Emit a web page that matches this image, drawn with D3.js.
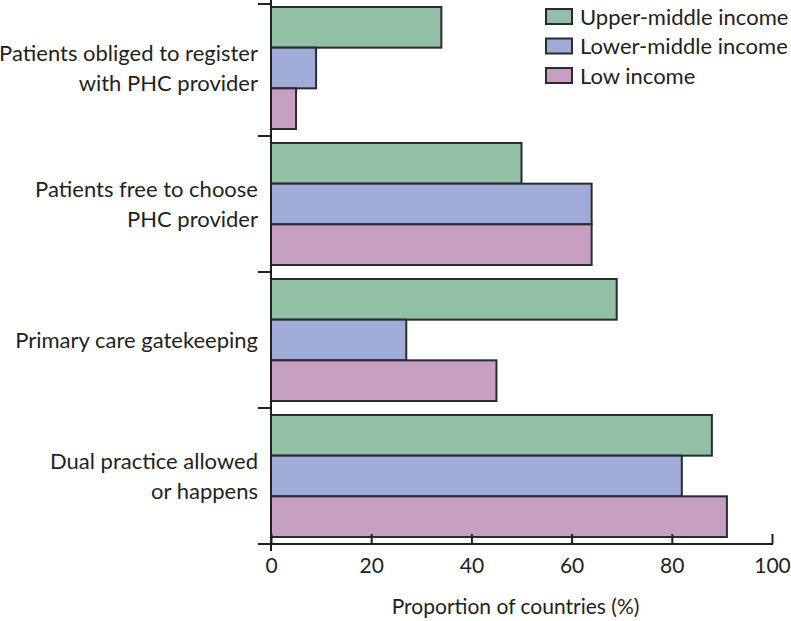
<!DOCTYPE html>
<html>
<head>
<meta charset="utf-8">
<script src="https://cdn.jsdelivr.net/npm/d3@7"></script>
<style>
  html, body { margin: 0; padding: 0; background: #fff; }
  svg { display: block; }
  text { font-family: Lato, "Noto Sans", sans-serif; fill: #231f20; }
</style>
</head>
<body>
<svg id="chart" width="791" height="621"></svg>
<script>
const categories = [
  ["Patients obliged to register", "with PHC provider"],
  ["Patients free to choose", "PHC provider"],
  ["Primary care gatekeeping"],
  ["Dual practice allowed", "or happens"]
];
const seriesNames = ["Upper-middle income", "Lower-middle income", "Low income"];
const upperMiddle = [34, 50, 69, 88];
const lowerMiddle = [9, 64, 27, 82];
const lowIncome = [5, 64, 45, 91];
const xTicks = [0, 20, 40, 60, 80, 100];
const colors = ["#92c0a6", "#9facd7", "#c69fc2"];
const xLabel = "Proportion of countries (%)";

const seriesValues = [upperMiddle, lowerMiddle, lowIncome];
const svg = d3.select("#chart");
const margin = { left: 271, right: 19, top: 0, bottom: 77 };
const W = 791, H = 621;
const plotBottom = H - margin.bottom; // 544

const x = d3.scaleLinear().domain([0, 100]).range([margin.left, W - margin.right]);
const y = d3.scaleBand().domain(d3.range(categories.length)).range([margin.top, plotBottom]).padding(0);
const inner = d3.scaleBand().domain(d3.range(seriesNames.length)).range([7, y.bandwidth() - 7]).padding(0);

// bars
categories.forEach((c, ci) => {
  const g = svg.append("g").attr("transform", `translate(0,${y(ci)})`);
  seriesValues.forEach((vals, si) => {
    g.append("rect")
      .attr("x", x(0))
      .attr("y", inner(si))
      .attr("width", x(vals[ci]) - x(0))
      .attr("height", inner.bandwidth())
      .attr("fill", colors[si])
      .attr("stroke", "#2b2b2b")
      .attr("stroke-width", 2);
  });
});

// y axis line
svg.append("line").attr("x1", x(0)).attr("x2", x(0)).attr("y1", 0).attr("y2", plotBottom + 7)
  .attr("stroke", "#231f20").attr("stroke-width", 2);
// y ticks at band boundaries
const yTickPos = categories.map((c, i) => Math.max(y(i), 4));
svg.selectAll(".ytick").data(yTickPos).enter().append("line")
  .attr("x1", x(0) - 13).attr("x2", x(0)).attr("y1", d => d).attr("y2", d => d)
  .attr("stroke", "#231f20").attr("stroke-width", 2);

// x axis
const xAxis = d3.axisBottom(x).tickValues(xTicks).tickSize(-10).tickPadding(22).tickSizeOuter(0);
const gx = svg.append("g").attr("transform", `translate(0,${plotBottom})`).call(xAxis);
gx.select(".domain").remove();
gx.append("line").attr("x1", x(0) - 13).attr("x2", x(100) + 1).attr("y1", 0).attr("y2", 0)
  .attr("stroke", "#231f20").attr("stroke-width", 2);
gx.selectAll(".tick line").attr("stroke", "#231f20").attr("stroke-width", 2).attr("y2", -10);
gx.selectAll(".tick text").attr("font-size", 21).attr("font-family", "Lato, 'Noto Sans', sans-serif")
  .attr("fill", "#231f20").attr("dy", "0.35em").attr("y", 22);

svg.append("text").attr("x", (x(0) + x(100)) / 2 - 6).attr("y", 614)
  .attr("text-anchor", "middle").attr("font-size", 21).text(xLabel);

// category labels
categories.forEach((lines, ci) => {
  const cy = y(ci) + y.bandwidth() / 2;
  const n = lines.length;
  lines.forEach((l, li) => {
    svg.append("text")
      .attr("x", x(0) - 13)
      .attr("y", cy + (li - (n - 1) / 2) * 30)
      .attr("dy", "0.35em")
      .attr("text-anchor", "end")
      .attr("font-size", 22)
      .text(l);
  });
});

// legend
const lg = svg.append("g").attr("transform", "translate(546,9)");
seriesNames.forEach((s, i) => {
  const row = lg.append("g").attr("transform", `translate(0,${i * 29.5})`);
  row.append("rect").attr("width", 26).attr("height", 15)
    .attr("fill", colors[i]).attr("stroke", "#2b2b2b").attr("stroke-width", 2);
  row.append("text").attr("x", 34).attr("y", 8).attr("dy", "0.35em").attr("font-size", 22).text(s);
});
</script>
</body>
</html>
